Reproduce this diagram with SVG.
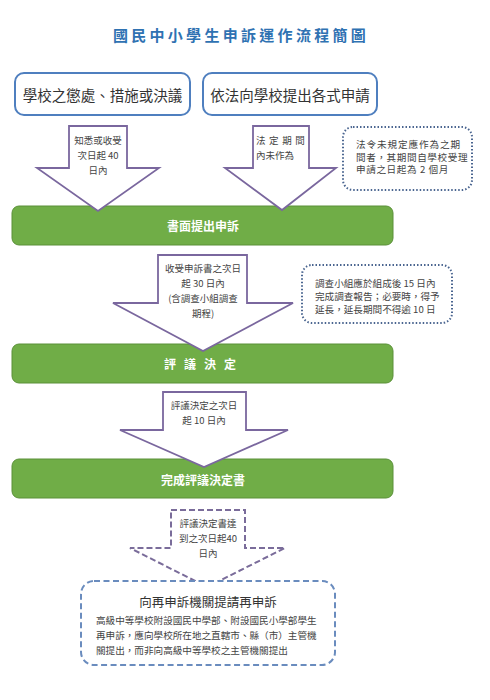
<svg xmlns="http://www.w3.org/2000/svg" width="490" height="700" viewBox="0 0 490 700">
<style>
text{font-family:"Noto Sans CJK TC","Noto Sans CJK SC","Liberation Sans",sans-serif;dominant-baseline:central}
.title{font-size:15px;font-weight:bold;fill:#2F72B2;letter-spacing:3.3px}
.top{fill:#fff;stroke:#4F7FBF;stroke-width:2}
.toptxt{font-size:14.5px;fill:#333}
.bar{fill:#70AD47;stroke:#5A9038;stroke-width:1}
.bartxt{font-size:12px;font-weight:bold;fill:#fff}
.arrow{fill:#fff;stroke:#7A679E;stroke-width:1.8;stroke-linejoin:miter}
.darrow{fill:#fff;stroke:#7A6C9A;stroke-width:2;stroke-dasharray:6 3}
.atxt{font-size:9.5px;fill:#444}
.note{fill:#fff;stroke:#4A6590;stroke-width:2;stroke-dasharray:1.5 2}
.ntxt{font-size:9.6px;fill:#444}
.final{fill:#fff;stroke:#6A8CBE;stroke-width:2;stroke-dasharray:6 3.5}
</style>

<text class="title" x="241" y="34" text-anchor="middle">國民中小學生申訴運作流程簡圖</text>

<g id="source1">
<rect class="top" x="15" y="73" width="175" height="42" rx="9"/>
<text class="toptxt" x="102.5" y="94" text-anchor="middle" font-size="14">學校之懲處、措施或決議</text>
</g>
<g id="source2">
<rect class="top" x="203" y="73" width="174" height="42" rx="9"/>
<text class="toptxt" x="290" y="94" text-anchor="middle" font-size="15">依法向學校提出各式申請</text>
</g>

<g id="note1">
<rect class="note" x="343" y="127" width="129" height="63" rx="10"/>
<text class="ntxt" x="356" y="144" letter-spacing="0.9">法令未規定應作為之期</text>
<text class="ntxt" x="356" y="156.5" letter-spacing="0.6">間者，其期間自學校受理</text>
<text class="ntxt" x="356" y="169" letter-spacing="0.6">申請之日起為 2 個月</text>
</g>

<g id="note2">
<rect class="note" x="302" y="265" width="150" height="58" rx="10"/>
<text class="ntxt" x="315" y="283">調查小組應於組成後 15 日內</text>
<text class="ntxt" x="315" y="296">完成調查報告；必要時，得予</text>
<text class="ntxt" x="315" y="309">延長，延長期間不得逾 10 日</text>
</g>

<g id="complaint">
<rect class="bar" x="12" y="206" width="381" height="39" rx="7"/>
<text class="bartxt" x="203" y="225.5" text-anchor="middle">書面提出申訴</text>
</g>
<g id="review">
<rect class="bar" x="12" y="344" width="381" height="39" rx="7"/>
<text class="bartxt" x="204" y="363.5" text-anchor="middle" letter-spacing="8">評議決定</text>
</g>
<g id="decision">
<rect class="bar" x="12" y="459" width="381" height="39" rx="7"/>
<text class="bartxt" x="203" y="479" text-anchor="middle">完成評議決定書</text>
</g>

<g id="connectors">
<g id="arrow1">
<path class="arrow" d="M69,126 L127,126 L127,168 L159,168 L98,211 L37,168 L69,168 Z"/>
<text class="atxt" x="98" y="140" text-anchor="middle">知悉或收受</text>
<text class="atxt" x="98" y="155" text-anchor="middle">次日起 40</text>
<text class="atxt" x="98" y="170" text-anchor="middle">日內</text>
</g>
<g id="arrow2">
<path class="arrow" d="M253,126 L309,126 L309,168 L336,168 L282,210 L225,168 L253,168 Z"/>
<text class="atxt" x="256" y="140" letter-spacing="3.6">法定期間</text>
<text class="atxt" x="256" y="155">內未作為</text>
</g>
<g id="arrow3">
<path class="arrow" d="M158,255 L247,255 L247,303 L293,303 L203,351 L113,303 L158,303 Z"/>
<text class="atxt" x="203" y="268" text-anchor="middle">收受申訴書之次日</text>
<text class="atxt" x="203" y="283" text-anchor="middle">起 30 日內</text>
<text class="atxt" x="203" y="298" text-anchor="middle">(含調查小組調查</text>
<text class="atxt" x="203" y="313" text-anchor="middle">期程)</text>
</g>
<g id="arrow4">
<path class="arrow" d="M163,392 L246,392 L246,430 L288,430 L204,467 L120,430 L163,430 Z"/>
<text class="atxt" x="204" y="405" text-anchor="middle">評議決定之次日</text>
<text class="atxt" x="204" y="420" text-anchor="middle">起 10 日內</text>
</g>
<g id="arrow5">
<path class="darrow" d="M171,510 L245,510 L245,548 L285,548 L207,587 L130,548 L171,548 Z"/>
<text class="atxt" x="208" y="523" text-anchor="middle">評議決定書達</text>
<text class="atxt" x="208" y="538" text-anchor="middle">到之次日起40</text>
<text class="atxt" x="208" y="553" text-anchor="middle">日內</text>
</g>
</g>

<g id="reappeal">
<rect class="final" x="81" y="581" width="254" height="84" rx="13"/>
<text x="208" y="601" text-anchor="middle" font-size="12.5" fill="#333">向再申訴機關提請再申訴</text>
<text class="ntxt" x="96" y="619.5" font-size="9.7">高級中等學校附設國民中學部、附設國民小學部學生</text>
<text class="ntxt" x="96" y="635" font-size="9.7">再申訴，應向學校所在地之直轄市、縣（市）主管機</text>
<text class="ntxt" x="96" y="649.5" font-size="9.7">關提出，而非向高級中等學校之主管機關提出</text>
</g>
</svg>
